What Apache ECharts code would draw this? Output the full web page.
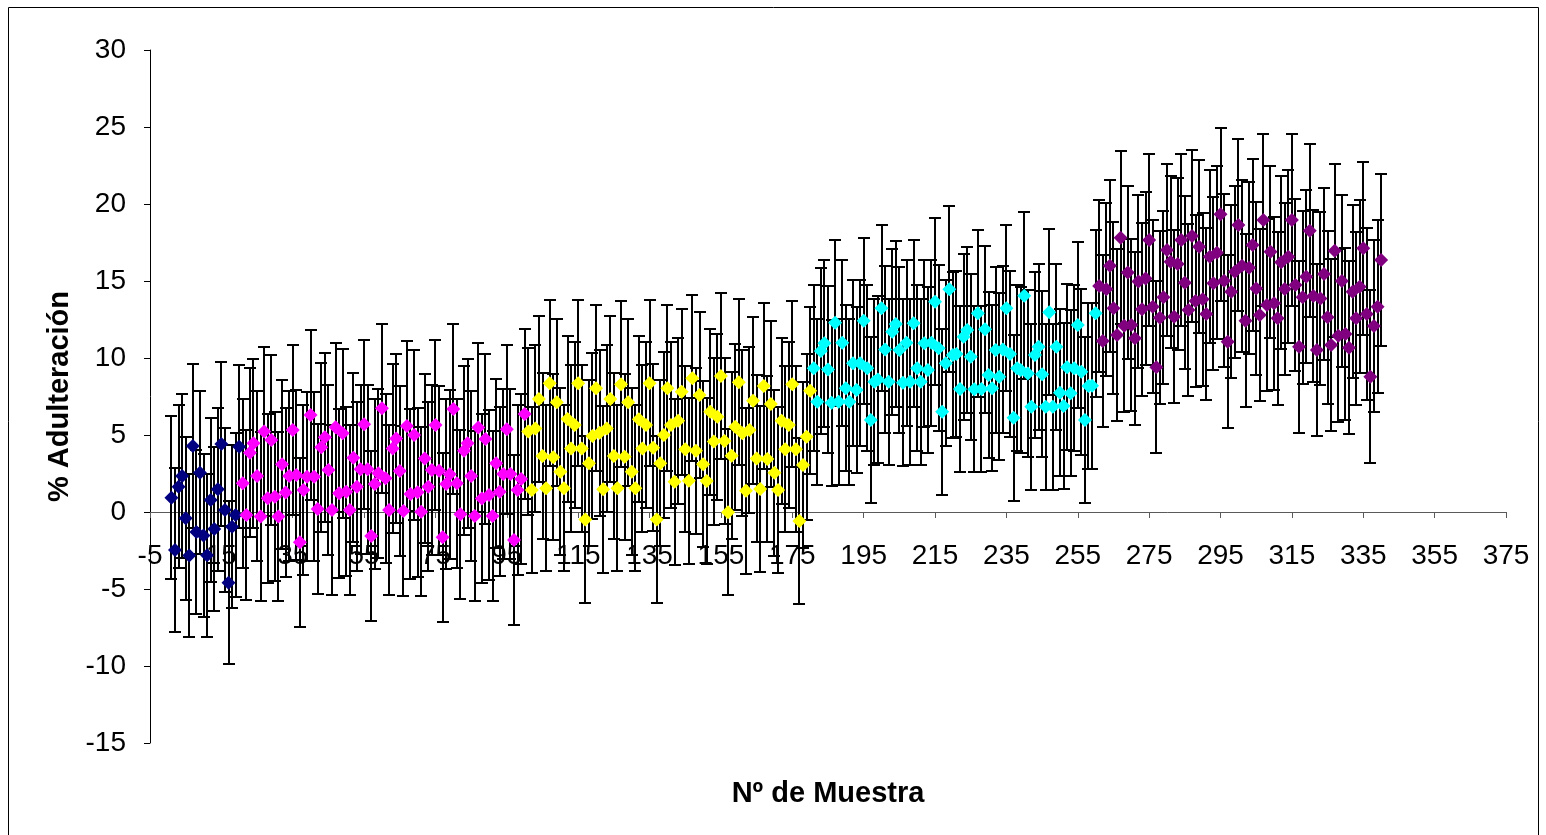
<!DOCTYPE html>
<html>
<head>
<meta charset="utf-8">
<script src="https://cdn.jsdelivr.net/npm/echarts@6/dist/echarts.min.js"></script>
<style>
  html, body { margin: 0; padding: 0; background: #ffffff; }
  #chart { width: 1546px; height: 835px; }
</style>
</head>
<body>
<div id="chart"></div>
<script>
// Tick labels of both axes
const xTickValues = [-5, 15, 35, 55, 75, 95, 115, 135, 155, 175, 195, 215, 235, 255, 275, 295, 315, 335, 355, 375];
const yMin = -15, yMax = 30, yStep = 5;

// First sample number of each group (samples are numbered consecutively)
const startNavy = 1, startMagenta = 21, startYellow = 101, startCyan = 181, startPurple = 261;

// % adulteración per sample
const valuesNavy = [0.93, -2.47, 1.64, 2.34, -0.41, -2.83, 4.29, -1.30, 2.55, -1.52,
  -2.81, 0.78, -1.10, 1.47, 4.42, 0.13, -4.59, -0.95, -0.2, 4.24];

const valuesMagenta = [1.86, -0.2, 3.85, 4.46, 2.34, -0.30, 5.22, 0.89, 4.68, 0.99,
  -0.30, 3.10, 1.26, 2.34, 5.32, 2.4, -1.97, 1.43, 2.29, 6.3,
  2.29, 0.19, 4.2, 4.85, 2.73, 0.13, 5.5, 1.21, 5.11, 1.32,
  0.13, 3.53, 1.64, 2.77, 5.69, 2.77, -1.56, 1.82, 2.51, 6.73,
  2.19, 0.13, 4.13, 4.78, 2.66, 0.06, 5.58, 1.17, 5.0, 1.28,
  0.02, 3.48, 1.64, 2.73, 5.65, 2.68, -1.64, 1.82, 2.45, 6.69,
  1.86, -0.15, 3.98, 4.46, 2.34, -0.26, 5.48, 0.87, 4.74, 1.1,
  -0.26, 3.16, 1.32, 2.47, 5.37, 2.47, -1.82, 1.43, 2.14, 6.36];

const valuesYellow = [5.22, 1.43, 5.43, 7.34, 3.64, 1.54, 8.36, 3.55, 7.12, 2.62,
  1.54, 6.04, 4.13, 5.65, 8.36, 4.13, -0.48, 3.16, 4.94, 8.03,
  5.15, 1.47, 5.43, 7.34, 3.64, 1.54, 8.29, 3.59, 7.12, 2.62,
  1.54, 6.02, 4.13, 5.65, 8.36, 4.18, -0.48, 3.16, 5.0, 8.03,
  5.65, 1.97, 5.93, 7.81, 4.07, 2.03, 8.68, 3.98, 7.6, 3.1,
  2.01, 6.51, 4.57, 6.19, 8.83, 4.61, -0.02, 3.66, 5.54, 8.42,
  5.11, 1.38, 5.32, 7.23, 3.48, 1.49, 8.18, 3.44, 7.01, 2.55,
  1.43, 5.93, 4.07, 5.65, 8.29, 4.07, -0.58, 3.05, 4.89, 7.88];

const valuesCyan = [9.33, 7.16, 10.45, 10.95, 9.26, 7.1, 12.29, 7.16, 10.99, 8.03,
  7.16, 9.66, 7.92, 9.66, 12.42, 9.33, 5.97, 8.46, 8.6, 13.23,
  10.56, 8.46, 11.71, 12.21, 10.52, 8.4, 10.99, 8.46, 12.25, 9.33,
  8.46, 10.95, 9.22, 10.99, 13.66, 10.63, 6.51, 9.66, 14.46, 10.2,
  10.26, 7.99, 11.38, 11.82, 10.08, 7.97, 12.9, 7.99, 11.86, 8.9,
  8.03, 10.52, 8.79, 10.56, 13.23, 10.26, 6.12, 9.33, 9.22, 14.05,
  9.0, 6.84, 10.19, 10.73, 8.94, 6.84, 12.97, 6.84, 10.73, 7.75,
  6.88, 9.4, 7.71, 9.33, 12.14, 9.11, 5.97, 8.18, 8.2, 12.9];

const valuesPurple = [14.68, 11.1, 14.46, 15.99, 13.23, 11.49, 17.81, 12.1, 15.56, 12.14,
  11.28, 14.96, 13.16, 15.17, 17.66, 13.33, 9.4, 12.62, 13.94, 17.01,
  16.25, 12.68, 16.1, 17.66, 14.89, 13.12, 17.92, 13.7, 17.23, 13.81,
  12.86, 16.58, 14.85, 16.84, 19.33, 15.02, 11.06, 14.31, 15.6, 18.64,
  15.99, 12.42, 15.86, 17.34, 14.52, 12.79, 18.96, 13.44, 16.9, 13.55,
  12.58, 16.21, 14.48, 16.58, 18.96, 14.74, 10.73, 13.94, 15.28, 18.27,
  14.03, 10.52, 13.87, 15.45, 12.64, 10.84, 16.97, 11.45, 15.0, 11.56,
  10.67, 14.31, 12.58, 14.63, 17.12, 12.86, 8.79, 12.08, 13.33, 16.36];

// Half-length of the error bar of each group
const errNavy = 5.3, errMagenta = 5.5, errYellow = 5.4, errCyan = 5.4, errPurple = 5.6;

const colorNavy = '#000080', colorMagenta = '#FF00FF', colorYellow = '#FFFF00',
      colorCyan = '#00FFFF', colorPurple = '#800080';

const FONT = '"Liberation Sans", Arial, sans-serif';
const LABEL_SIZE = 28;
const TITLE_SIZE = 29;

function rows(start, values, err) {
  return values.map((v, i) => [start + i, v, err]);
}

const groups = [
  { data: rows(startNavy, valuesNavy, errNavy), color: colorNavy },
  { data: rows(startMagenta, valuesMagenta, errMagenta), color: colorMagenta },
  { data: rows(startYellow, valuesYellow, errYellow), color: colorYellow },
  { data: rows(startCyan, valuesCyan, errCyan), color: colorCyan },
  { data: rows(startPurple, valuesPurple, errPurple), color: colorPurple }
];

// Vertical error bar with horizontal caps
function renderErrorBar(params, api) {
  const x = api.value(0), y = api.value(1), e = api.value(2);
  const top = api.coord([x, y + e]);
  const bot = api.coord([x, y - e]);
  const cx = Math.round(top[0]);
  const ty = Math.round(top[1]), by = Math.round(bot[1]);
  const half = 6;
  const style = { stroke: '#000000', lineWidth: 2, fill: null };
  return {
    type: 'group',
    children: [
      { type: 'line', shape: { x1: cx, y1: ty, x2: cx, y2: by }, style: style },
      { type: 'line', shape: { x1: cx - half, y1: ty, x2: cx + half, y2: ty }, style: style },
      { type: 'line', shape: { x1: cx - half, y1: by, x2: cx + half, y2: by }, style: style }
    ]
  };
}

// Category tick labels hang below the horizontal axis, which crosses at 0
function renderXLabel(params, api) {
  const v = api.value(0);
  const p = api.coord([v, 0]);
  return {
    type: 'text',
    x: p[0],
    y: p[1] + 44,
    style: {
      text: String(v),
      fill: '#000000',
      font: LABEL_SIZE + 'px ' + FONT,
      textAlign: 'center',
      textVerticalAlign: 'middle',
      align: 'center',
      verticalAlign: 'middle'
    }
  };
}

const series = [];
groups.forEach((g) => {
  series.push({
    type: 'custom',
    renderItem: renderErrorBar,
    data: g.data,
    encode: { x: 0, y: 1 },
    z: 2,
    silent: true,
    animation: false
  });
});
groups.forEach((g) => {
  series.push({
    type: 'scatter',
    data: g.data.map(d => [d[0], d[1]]),
    symbol: 'diamond',
    symbolSize: 14,
    itemStyle: { color: g.color, opacity: 1 },
    z: 5,
    silent: true,
    animation: false
  });
});
series.push({
  type: 'custom',
  renderItem: renderXLabel,
  data: xTickValues.map(v => [v, 0]),
  encode: { x: 0, y: 1 },
  clip: false,
  z: 1,
  silent: true,
  animation: false
});

const chart = echarts.init(document.getElementById('chart'), null, { renderer: 'canvas' });
chart.setOption({
  backgroundColor: '#ffffff',
  animation: false,
  grid: { left: 150, top: 50, right: 40, bottom: 92, containLabel: false },
  xAxis: {
    type: 'value',
    min: xTickValues[0],
    max: xTickValues[xTickValues.length - 1],
    axisLine: { show: true, onZero: true, lineStyle: { color: '#5a5a5a', width: 1 } },
    axisTick: { show: true, inside: false, length: 6, customValues: xTickValues,
      lineStyle: { color: '#5a5a5a', width: 1 } },
    axisLabel: { show: false },
    splitLine: { show: false }
  },
  yAxis: {
    type: 'value',
    min: yMin,
    max: yMax,
    interval: yStep,
    name: '% Adulteración',
    nameLocation: 'middle',
    nameRotate: 90,
    nameGap: 76,
    nameTextStyle: { color: '#000000', fontSize: TITLE_SIZE, fontWeight: 'bold', fontFamily: FONT },
    axisLine: { show: true, onZero: false, lineStyle: { color: '#000000', width: 1 } },
    axisTick: { show: true, inside: false, length: 6, lineStyle: { color: '#000000', width: 1 } },
    axisLabel: { margin: 24, color: '#000000', fontSize: LABEL_SIZE, fontFamily: FONT },
    splitLine: { show: false }
  },
  graphic: [
    {
      type: 'rect',
      shape: { x: 8.5, y: 7.5, width: 1530, height: 840 },
      style: { fill: null, stroke: '#000000', lineWidth: 1 },
      silent: true, z: 0
    },
    {
      type: 'text',
      x: 828, y: 794,
      style: {
        text: 'Nº de Muestra',
        fill: '#000000',
        font: 'bold ' + TITLE_SIZE + 'px ' + FONT,
        textAlign: 'center',
        textVerticalAlign: 'middle'
      },
      silent: true
    }
  ],
  series: series
});
</script>
</body>
</html>
